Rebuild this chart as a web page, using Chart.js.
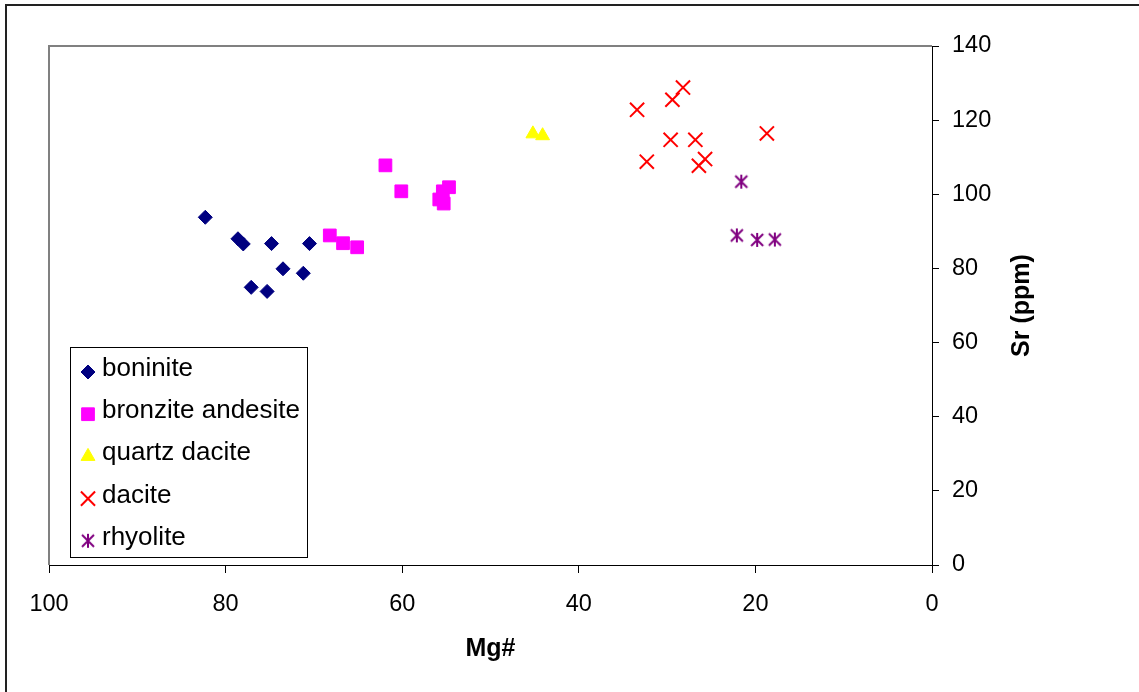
<!DOCTYPE html>
<html>
<head>
<meta charset="utf-8">
<script src="https://cdn.jsdelivr.net/npm/chart.js@4.4.1/dist/chart.umd.min.js"></script>
<style>
  body { margin: 0; background: #fff; }
  canvas { display: block; }
</style>
</head>
<body>
<canvas id="myChart" width="1139" height="692"></canvas>
<script>
// values (x = Mg#, y = Sr ppm)
const boniniteMg = [82.3, 78.6, 78.0, 74.8, 70.5, 73.5, 71.2, 77.1, 75.3];
const boniniteSr = [93.8, 88.0, 86.6, 86.7, 86.7, 79.9, 78.7, 74.9, 73.8];
const bronziteMg = [61.9, 60.1, 54.7, 55.4, 55.8, 55.3, 68.2, 66.7, 65.1];
const bronziteSr = [107.8, 100.8, 101.9, 100.8, 98.6, 97.5, 88.9, 86.8, 85.7];
const quartzMg = [45.2, 44.1];
const quartzSr = [116.3, 115.8];
const daciteMg = [33.4, 29.4, 28.2, 29.6, 26.8, 32.3, 25.7, 26.4, 18.7];
const daciteSr = [122.8, 125.5, 128.8, 114.7, 114.7, 108.8, 109.5, 107.7, 116.4];
const rhyoliteMg = [21.6, 22.1, 19.8, 17.8];
const rhyoliteSr = [103.4, 88.9, 87.7, 87.8];

const xTicks = [100, 80, 60, 40, 20, 0];
const yTicks = [0, 20, 40, 60, 80, 100, 120, 140];

const FONT = "'Liberation Sans', Arial, sans-serif";

const pts = (xs, ys) => xs.map((x, i) => ({ x: x, y: ys[i] }));

// excel style star: an X with a vertical bar
const star = document.createElement('canvas');
star.width = 16;
star.height = 16;
const sctx = star.getContext('2d');
sctx.strokeStyle = '#800080';
sctx.lineWidth = 2;
sctx.beginPath();
sctx.moveTo(2, 2); sctx.lineTo(14, 14);
sctx.moveTo(14, 2); sctx.lineTo(2, 14);
sctx.moveTo(8, 1); sctx.lineTo(8, 15);
sctx.stroke();

const series = [
  { label: 'boninite', data: pts(boniniteMg, boniniteSr), pointStyle: 'rectRot', radius: 7, color: '#000080', borderWidth: 1 },
  { label: 'bronzite andesite', data: pts(bronziteMg, bronziteSr), pointStyle: 'rect', radius: 9, color: '#FF00FF', borderWidth: 1 },
  { label: 'quartz dacite', data: pts(quartzMg, quartzSr), pointStyle: 'triangle', radius: 8, color: '#FFFF00', borderWidth: 1 },
  { label: 'dacite', data: pts(daciteMg, daciteSr), pointStyle: 'crossRot', radius: 10, color: '#FF0000', borderWidth: 2 },
  { label: 'rhyolite', data: pts(rhyoliteMg, rhyoliteSr), pointStyle: star, radius: 8, color: '#800080', borderWidth: 2 },
];

const frame = {
  id: 'frame',
  beforeDraw: (chart) => {
    const c = chart.ctx;
    const a = chart.chartArea;
    c.save();
    c.fillStyle = '#fff';
    c.fillRect(0, 0, chart.width, chart.height);
    c.strokeStyle = '#222';
    c.lineWidth = 2;
    c.strokeRect(6, 5, chart.width + 20, chart.height + 20);
    c.strokeStyle = '#808080';
    c.beginPath();
    c.moveTo(a.left, a.bottom);
    c.lineTo(a.left, a.top);
    c.lineTo(a.right, a.top);
    c.stroke();
    c.restore();
  },
  afterDraw: (chart) => {
    const c = chart.ctx;
    const a = chart.chartArea;
    c.save();
    // axis titles
    c.fillStyle = '#000';
    c.font = 'bold 25px ' + FONT;
    c.textAlign = 'center';
    c.textBaseline = 'middle';
    c.fillText('Mg#', (a.left + a.right) / 2, 649);
    c.translate(1022, (a.top + a.bottom) / 2);
    c.rotate(-Math.PI / 2);
    c.fillText('Sr (ppm)', 0, 0);
    c.restore();

    // legend box
    c.save();
    c.fillStyle = '#fff';
    c.fillRect(70, 347, 238, 211);
    c.strokeStyle = '#000';
    c.lineWidth = 1;
    c.strokeRect(70.5, 347.5, 237, 210);
    c.font = '26px ' + FONT;
    c.textAlign = 'left';
    c.textBaseline = 'alphabetic';
    series.forEach((s, i) => {
      const y = 372 + i * 42.2;
      c.fillStyle = s.color;
      c.strokeStyle = s.color;
      c.lineWidth = s.borderWidth;
      Chart.helpers.drawPoint(c, { pointStyle: s.pointStyle, radius: s.radius, rotation: 0, borderWidth: s.borderWidth }, 88, y);
      c.fillStyle = '#000';
      c.fillText(s.label, 102, y + 4);
    });
    c.restore();
  },
};

const ctx = document.getElementById('myChart');

new Chart(ctx, {
  type: 'scatter',
  plugins: [frame],
  data: {
    datasets: series.map((s) => ({
      label: s.label,
      data: s.data,
      pointStyle: s.pointStyle,
      pointRadius: s.radius,
      pointHoverRadius: s.radius,
      backgroundColor: s.color,
      borderColor: s.color,
      borderWidth: s.borderWidth,
    })),
  },
  options: {
    responsive: false,
    animation: false,
    devicePixelRatio: 1,
    events: [],
    layout: { padding: { left: 49, top: 46, right: 0, bottom: 0 } },
    plugins: {
      legend: { display: false },
      tooltip: { enabled: false },
    },
    scales: {
      x: {
        type: 'linear',
        position: 'bottom',
        reverse: true,
        min: 0,
        max: 100,
        afterBuildTicks: (scale) => {
          scale.ticks = xTicks.map((v) => ({ value: v }));
        },
        afterFit: (scale) => {
          scale.height = 692 - 565;
        },
        grid: { drawOnChartArea: false, drawTicks: true, tickLength: 8, color: '#000' },
        border: { display: true, color: '#000', width: 1 },
        ticks: { color: '#000', font: { family: FONT, size: 23.5 }, padding: 17, maxRotation: 0 },
      },
      y: {
        type: 'linear',
        position: 'right',
        min: 0,
        max: 140,
        afterBuildTicks: (scale) => {
          scale.ticks = yTicks.map((v) => ({ value: v }));
        },
        afterFit: (scale) => {
          scale.width = 1139 - 932;
        },
        grid: { drawOnChartArea: false, drawTicks: true, tickLength: 7, color: '#000' },
        border: { display: true, color: '#000', width: 1 },
        ticks: { color: '#000', font: { family: FONT, size: 23.5 }, padding: 13 },
      },
    },
  },
});
</script>
</body>
</html>
